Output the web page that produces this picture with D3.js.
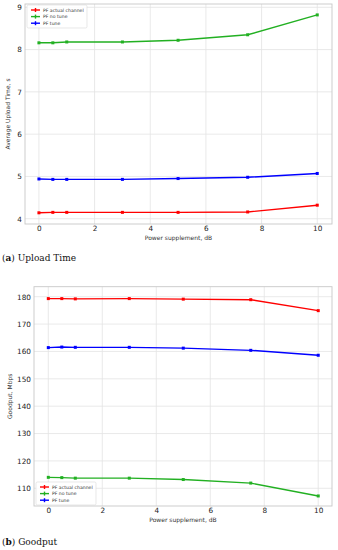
<!DOCTYPE html>
<html>
<head>
<meta charset="utf-8">
<script src="https://cdn.jsdelivr.net/npm/d3@7"></script>
<style>
  html, body { margin: 0; padding: 0; background: #fff; }
  svg { display: block; }
</style>
</head>
<body>
<div class="chart"></div>
<script>
// Données
const powerSupplement = [0, 0.5, 1, 3, 5, 7.5, 10];
const seriesNames = ["PF actual channel", "PF no tune", "PF tune"];
const seriesColors = ["#ff0000", "#22b022", "#0000ff"];

const uploadActual = [4.14, 4.15, 4.15, 4.15, 4.15, 4.16, 4.32];
const uploadNoTune = [8.16, 8.16, 8.18, 8.18, 8.22, 8.35, 8.82];
const uploadTune = [4.94, 4.93, 4.93, 4.93, 4.95, 4.98, 5.07];

const goodputActual = [179.3, 179.3, 179.2, 179.3, 179.1, 178.9, 174.9];
const goodputNoTune = [114.0, 113.9, 113.7, 113.7, 113.2, 111.9, 107.2];
const goodputTune = [161.4, 161.6, 161.5, 161.5, 161.2, 160.4, 158.6];

const xTicks = [0, 2, 4, 6, 8, 10];
const uploadTicks = [4, 5, 6, 7, 8, 9];
const goodputTicks = [110, 120, 130, 140, 150, 160, 170, 180];

const width = 338, height = 550;

const svg = d3.select('.chart').append('svg')
    .attr('width', width)
    .attr('height', height)
    .style('background-color', '#fff');

function drawChart(opt) {
    const x = d3.scaleLinear().domain(opt.xDomain).range([opt.left, opt.right]);
    const y = d3.scaleLinear().domain(opt.yDomain).range([opt.bottom, opt.top]);
    const g = svg.append('g');

    // grille
    g.selectAll('.vgrid').data(xTicks).join('line')
        .attr('x1', d => x(d)).attr('x2', d => x(d))
        .attr('y1', opt.top).attr('y2', opt.bottom)
        .attr('stroke', '#e3e3e3').attr('stroke-width', 0.8);
    g.selectAll('.hgrid').data(opt.yTicks).join('line')
        .attr('x1', opt.left).attr('x2', opt.right)
        .attr('y1', d => y(d)).attr('y2', d => y(d))
        .attr('stroke', '#e3e3e3').attr('stroke-width', 0.8);

    // axes
    const xAxis = d3.axisBottom(x).tickValues(xTicks).tickFormat(d3.format('d')).tickSize(0).tickPadding(2);
    const yAxis = d3.axisLeft(y).tickValues(opt.yTicks).tickFormat(d3.format('d')).tickSize(0).tickPadding(3);
    const gx = g.append('g').attr('transform', `translate(0,${opt.bottom})`).call(xAxis);
    const gy = g.append('g').attr('transform', `translate(${opt.left},0)`).call(yAxis);
    [gx, gy].forEach(a => {
        a.select('.domain').remove();
        a.selectAll('text')
            .attr('fill', '#222')
            .style('font-family', 'DejaVu Sans, sans-serif')
            .style('font-size', '7.3px');
    });

    // cadre
    g.append('rect')
        .attr('x', opt.left).attr('y', opt.top)
        .attr('width', opt.right - opt.left).attr('height', opt.bottom - opt.top)
        .attr('fill', 'none').attr('stroke', '#c8c8c8').attr('stroke-width', 0.9);

    // courbes
    const line = d3.line().x((d, i) => x(powerSupplement[i])).y(d => y(d));
    opt.series.forEach((s, k) => {
        g.append('path').datum(s)
            .attr('d', line)
            .attr('fill', 'none')
            .attr('stroke', seriesColors[k])
            .attr('stroke-width', 1.4);
        g.selectAll(null).data(s).join('rect')
            .attr('x', (d, i) => x(powerSupplement[i]) - 1.5)
            .attr('y', d => y(d) - 1.5)
            .attr('width', 3).attr('height', 3)
            .attr('fill', seriesColors[k]);
    });

    // légende
    const lg = g.append('g').attr('transform', `translate(${opt.legendX},${opt.legendY})`);
    lg.append('rect')
        .attr('x', 0).attr('y', 0).attr('width', 60).attr('height', 23)
        .attr('rx', 1.5)
        .attr('fill', '#fff').attr('fill-opacity', 0.85)
        .attr('stroke', '#d8d8d8').attr('stroke-width', 0.6);
    seriesNames.forEach((name, k) => {
        const yy = 5 + k * 6.6;
        lg.append('line')
            .attr('x1', 4).attr('x2', 13).attr('y1', yy).attr('y2', yy)
            .attr('stroke', seriesColors[k]).attr('stroke-width', 1.4);
        lg.append('line')
            .attr('x1', 8.5).attr('x2', 8.5).attr('y1', yy - 2).attr('y2', yy + 2)
            .attr('stroke', seriesColors[k]).attr('stroke-width', 1.4);
        lg.append('text')
            .attr('x', 16).attr('y', yy + 1.7)
            .attr('fill', '#333')
            .style('font-family', 'DejaVu Sans, sans-serif')
            .style('font-size', '4.6px')
            .text(name);
    });

    // titres d'axes
    g.append('text')
        .attr('x', (opt.left + opt.right) / 2).attr('y', opt.xLabelY)
        .attr('text-anchor', 'middle')
        .attr('fill', '#333')
        .style('font-family', 'DejaVu Sans, sans-serif')
        .style('font-size', '6px')
        .text('Power supplement, dB');
    g.append('text')
        .attr('transform', `translate(${opt.yLabelX},${(opt.top + opt.bottom) / 2}) rotate(-90)`)
        .attr('text-anchor', 'middle')
        .attr('fill', '#333')
        .style('font-family', 'DejaVu Sans, sans-serif')
        .style('font-size', '6px')
        .text(opt.yLabel);

    // légende de la figure
    const cap = svg.append('text')
        .attr('x', 2).attr('y', opt.captionY)
        .attr('fill', '#111')
        .style('font-family', 'DejaVu Serif, Liberation Serif, serif')
        .style('font-size', '9px');
    cap.append('tspan').text('(');
    cap.append('tspan').style('font-weight', 'bold').text(opt.letter);
    cap.append('tspan').text(') ' + opt.caption);
}

drawChart({
    left: 25, right: 332, top: 4, bottom: 224,
    xDomain: [-0.5, 10.53], yDomain: [3.875, 9.078],
    yTicks: uploadTicks,
    series: [uploadActual, uploadNoTune, uploadTune],
    legendX: 27, legendY: 5,
    xLabelY: 239.5, yLabelX: 10,
    yLabel: 'Average Upload Time, s',
    captionY: 261, letter: 'a', caption: 'Upload Time'
});

drawChart({
    left: 34, right: 332, top: 286.7, bottom: 506,
    xDomain: [-0.53, 10.51], yDomain: [103.53, 183.65],
    yTicks: goodputTicks,
    series: [goodputActual, goodputNoTune, goodputTune],
    legendX: 36, legendY: 482,
    xLabelY: 522, yLabelX: 12,
    yLabel: 'Goodput, Mbps',
    captionY: 545, letter: 'b', caption: 'Goodput'
});
</script>
</body>
</html>
